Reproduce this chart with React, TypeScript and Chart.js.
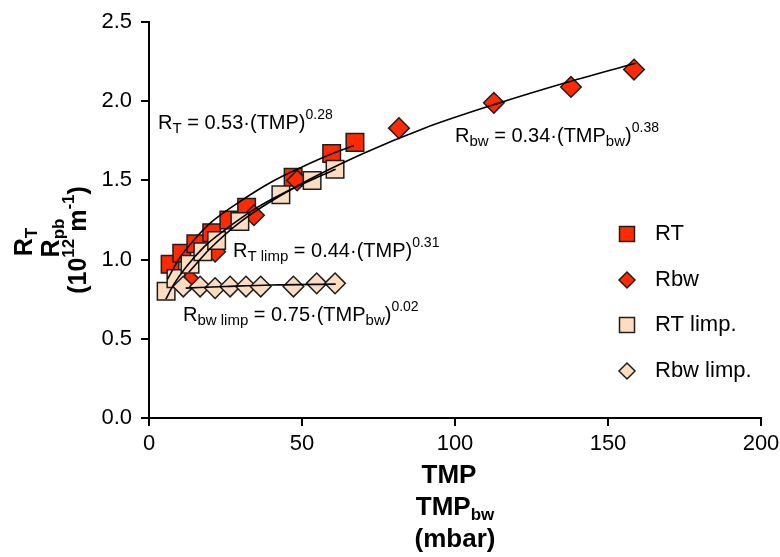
import React, { useEffect, useRef } from "react";
import { Chart, registerables } from "chart.js";
Chart.register(...registerables);

const FONT = "'Liberation Sans', Arial, Helvetica, sans-serif";
const RED = "#FF2A00";
const PEACH = "#FDDCC0";
const EDGE = "#1E1E1E";

// Measured series (TMP in mbar, resistance in 10^12 m^-1)
const rtX = [6.9, 10.7, 15.3, 20.5, 26.1, 31.9, 47.1, 59.7, 67.3];
const rtY = [0.97, 1.04, 1.1, 1.17, 1.25, 1.33, 1.52, 1.67, 1.74];
const rbwX = [13.4, 21.6, 34.3, 48.4, 81.7, 112.7, 137.9, 158.5];
const rbwY = [0.87, 1.05, 1.28, 1.5, 1.83, 1.99, 2.09, 2.2];
const rtLimpX = [5.6, 8.8, 13.4, 17.6, 22.1, 29.7, 43.1, 53.3, 60.8];
const rtLimpY = [0.8, 0.88, 0.97, 1.05, 1.12, 1.24, 1.41, 1.5, 1.57];
const rbwLimpX = [11.2, 16.7, 21.6, 26.5, 31.7, 36.5, 47.2, 54.8, 60.8];
const rbwLimpY = [0.83, 0.83, 0.82, 0.83, 0.83, 0.83, 0.83, 0.85, 0.85];

// Trend lines
const fitRtX = [6, 10, 15, 20, 30, 40, 50, 60, 67];
const fitRtY = [0.875, 1.01, 1.13, 1.23, 1.37, 1.49, 1.585, 1.67, 1.72];
const fitRbwX = [13, 20, 30, 48, 70, 90, 113, 135, 159];
const fitRbwY = [0.92, 1.07, 1.24, 1.46, 1.67, 1.83, 1.98, 2.11, 2.24];
const fitRtLimpX = [5.5, 8, 12, 18, 25, 35, 45, 55, 61];
const fitRtLimpY = [0.75, 0.84, 0.95, 1.08, 1.19, 1.325, 1.43, 1.52, 1.57];
const fitRbwLimpX = [12, 25, 40, 61];
const fitRbwLimpY = [0.82, 0.83, 0.84, 0.845];

const legendLabels = ["RT", "Rbw", "RT limp.", "Rbw limp."];

type Seg = [string, number]; // 0 normal, 1 subscript, 2 superscript

function fontStr(size: number, bold: boolean) {
  return `${bold ? "bold " : ""}${size}px ${FONT}`;
}

function segSize(m: number, size: number, subR: number, supR: number) {
  return m === 0 ? size : Math.round(size * (m === 1 ? subR : supR));
}

function drawRich(
  ctx: CanvasRenderingContext2D,
  segs: Seg[],
  x: number,
  y: number,
  size: number,
  bold: boolean,
  align: "left" | "center",
  rotate = false,
  subR = 0.66,
  supR = 0.66
) {
  ctx.save();
  ctx.translate(x, y);
  if (rotate) ctx.rotate(-Math.PI / 2);
  let w = 0;
  for (const [t, m] of segs) {
    ctx.font = fontStr(segSize(m, size, subR, supR), bold);
    w += ctx.measureText(t).width;
  }
  let cx = align === "center" ? -w / 2 : 0;
  ctx.fillStyle = "#000";
  ctx.textBaseline = "middle";
  ctx.textAlign = "left";
  for (const [t, m] of segs) {
    ctx.font = fontStr(segSize(m, size, subR, supR), bold);
    const dy = m === 1 ? size * 0.3 : m === 2 ? -size * 0.38 : 0;
    ctx.fillText(t, cx, dy);
    cx += ctx.measureText(t).width;
  }
  ctx.restore();
}

function drawMarker(ctx: CanvasRenderingContext2D, kind: "sq" | "di", x: number, y: number, s: number, fill: string) {
  ctx.save();
  ctx.beginPath();
  if (kind === "sq") {
    ctx.rect(x - s / 2, y - s / 2, s, s);
  } else {
    ctx.moveTo(x, y - s / 2);
    ctx.lineTo(x + s / 2, y);
    ctx.lineTo(x, y + s / 2);
    ctx.lineTo(x - s / 2, y);
    ctx.closePath();
  }
  ctx.fillStyle = fill;
  ctx.fill();
  ctx.strokeStyle = EDGE;
  ctx.lineWidth = 1.5;
  ctx.stroke();
  ctx.restore();
}

const textPlugin = {
  id: "texts",
  afterDraw(chart: any) {
    const ctx: CanvasRenderingContext2D = chart.ctx;
    // Y axis title (rotated, three lines)
    drawRich(ctx, [["R", 0], ["T", 1]], 25, 242, 25, true, "center", true);
    drawRich(ctx, [["R", 0], ["pb", 1]], 52, 238, 25, true, "center", true);
    drawRich(ctx, [["(10", 0], ["12", 2], [" m", 0], ["-1", 2], [")", 0]], 79, 240, 25, true, "center", true);
    // X axis title
    drawRich(ctx, [["TMP", 0]], 449, 476, 26, true, "center");
    drawRich(ctx, [["TMP", 0], ["bw", 1]], 455, 508, 26, true, "center");
    drawRich(ctx, [["(mbar)", 0]], 455, 540, 26, true, "center");
    // Equations
    drawRich(ctx, [["R", 0], ["T", 1], [" = 0.53·(TMP)", 0], ["0.28", 2]], 158, 123, 20, false, "left", false, 0.76, 0.68);
    drawRich(ctx, [["R", 0], ["bw", 1], [" = 0.34·(TMP", 0], ["bw", 1], [")", 0], ["0.38", 2]], 455, 136, 20, false, "left", false, 0.76, 0.68);
    drawRich(ctx, [["R", 0], ["T limp", 1], [" = 0.44·(TMP)", 0], ["0.31", 2]], 233, 251, 20, false, "left", false, 0.76, 0.68);
    drawRich(ctx, [["R", 0], ["bw limp", 1], [" = 0.75·(TMP", 0], ["bw", 1], [")", 0], ["0.02", 2]], 183, 315, 20, false, "left", false, 0.76, 0.68);
    // Legend
    const kinds: ("sq" | "di")[] = ["sq", "di", "sq", "di"];
    const fills = [RED, RED, PEACH, PEACH];
    const ys = [234, 280, 325, 371];
    legendLabels.forEach((lab, i) => {
      drawMarker(ctx, kinds[i], 627, ys[i], kinds[i] === "sq" ? 15 : 16, fills[i]);
      drawRich(ctx, [[lab, 0]], 655, ys[i], 22, false, "left");
    });
  },
};

const pts = (xs: number[], ys: number[]) => xs.map((x, i) => ({ x, y: ys[i] }));

export default function App() {
  const ref = useRef<HTMLCanvasElement>(null);
  useEffect(() => {
    document.body.style.margin = "0";
    const canvas = ref.current!;
    const scatter = (label: string, xs: number[], ys: number[], style: string, fill: string, radius: number, order: number) => ({
      label,
      data: pts(xs, ys),
      pointStyle: style,
      pointRadius: radius,
      pointBackgroundColor: fill,
      pointBorderColor: EDGE,
      pointBorderWidth: 1.5,
      showLine: false,
      order,
    });
    const fit = (xs: number[], ys: number[]) => ({
      label: "fit",
      data: pts(xs, ys),
      showLine: true,
      borderColor: "#000",
      borderWidth: 1.6,
      pointRadius: 0,
      cubicInterpolationMode: "monotone",
      fill: false,
      order: 0,
    });
    const chart = new Chart(canvas, {
      type: "scatter",
      data: {
        datasets: [
          scatter("RT", rtX, rtY, "rect", RED, 12.4, 4),
          scatter("Rbw", rbwX, rbwY, "rectRot", RED, 10.3, 3),
          scatter("RT limp.", rtLimpX, rtLimpY, "rect", PEACH, 12.4, 2),
          scatter("Rbw limp.", rbwLimpX, rbwLimpY, "rectRot", PEACH, 10.3, 1),
          fit(fitRtX, fitRtY),
          fit(fitRbwX, fitRbwY),
          fit(fitRtLimpX, fitRtLimpY),
          fit(fitRbwLimpX, fitRbwLimpY),
        ] as any,
      },
      options: {
        responsive: false,
        animation: false,
        layout: { padding: { top: 22, right: 19, left: 0, bottom: 0 } },
        plugins: { legend: { display: false }, tooltip: { enabled: false } },
        scales: {
          x: {
            type: "linear",
            min: 0,
            max: 200,
            ticks: { stepSize: 50, font: { family: FONT, size: 22 }, color: "#000", padding: 5, maxRotation: 0 },
            grid: { drawOnChartArea: false, tickLength: 8, color: "#000", lineWidth: 2 },
            border: { color: "#000", width: 2 },
            afterFit: (s: any) => {
              s.height = 139;
              s.paddingLeft = 0;
              s.paddingRight = 0;
            },
          },
          y: {
            type: "linear",
            min: 0,
            max: 2.5,
            ticks: {
              stepSize: 0.5,
              font: { family: FONT, size: 22 },
              color: "#000",
              padding: 9,
              callback: (v: any) => Number(v).toFixed(1),
            },
            grid: { drawOnChartArea: false, tickLength: 8, color: "#000", lineWidth: 2 },
            border: { color: "#000", width: 2 },
            afterFit: (s: any) => {
              s.width = 149;
              s.paddingTop = 0;
              s.paddingBottom = 0;
            },
          },
        },
      } as any,
      plugins: [textPlugin],
    });
    return () => chart.destroy();
  }, []);
  return <canvas ref={ref} width={780} height={557} style={{ display: "block" }} />;
}
